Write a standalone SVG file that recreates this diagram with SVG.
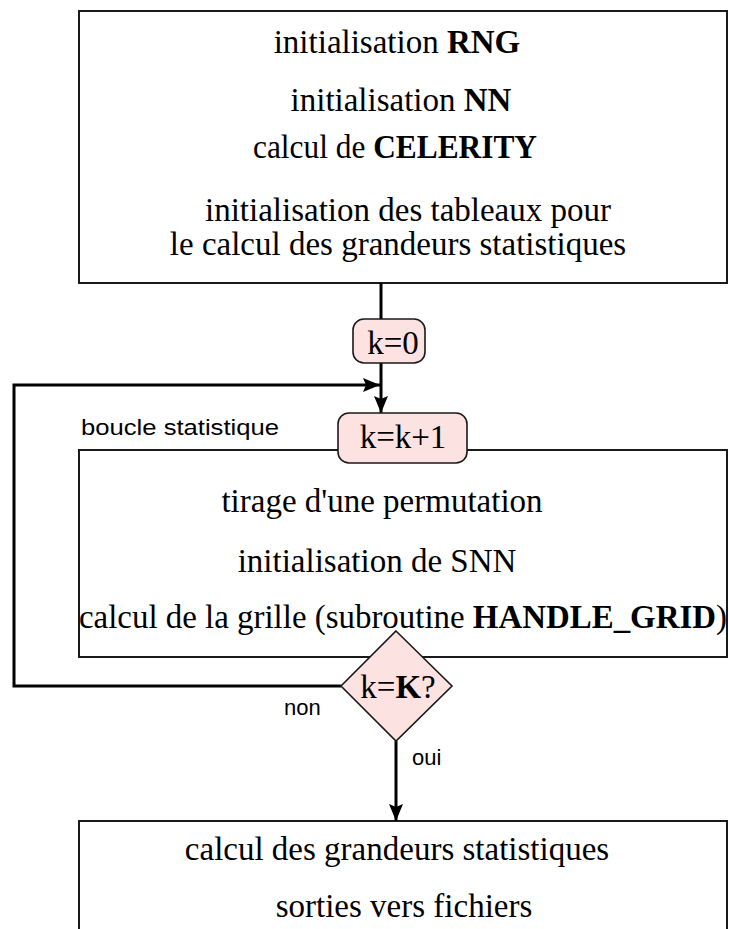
<svg xmlns="http://www.w3.org/2000/svg" width="729" height="929" viewBox="0 0 729 929">
<style>
.box{fill:#fff;stroke:#1a1a1a;stroke-width:2}
.pink{fill:#fde2e2;stroke:#1a1a1a;stroke-width:1.6}
.t{font-family:"Liberation Serif","Times New Roman",serif;font-size:33px;fill:#000;text-anchor:middle}
.b{font-weight:bold}
.s{font-family:"Liberation Sans",Arial,sans-serif;font-size:22px;fill:#000}
.c{fill:none;stroke:#000;stroke-width:3}
</style>
<defs>
<marker id="ah" markerUnits="userSpaceOnUse" markerWidth="18" markerHeight="14" refX="17" refY="7" orient="auto">
<path d="M0,0 L17,7 L0,14 L3,7 z" fill="#000"/>
</marker>
</defs>
<rect width="729" height="929" fill="#fff"/>
<g id="box-init">
<rect class="box" x="79" y="11" width="648" height="272"/>
<text class="t" x="397" y="53">initialisation <tspan class="b">RNG</tspan></text>
<text class="t" x="401" y="111">initialisation <tspan class="b">NN</tspan></text>
<text class="t" x="395" y="158" textLength="284" lengthAdjust="spacingAndGlyphs">calcul de <tspan class="b">CELERITY</tspan></text>
<text class="t" x="408" y="221">initialisation des tableaux pour</text>
<text class="t" x="398" y="255">le calcul des grandeurs statistiques</text>
</g>
<g id="box-loop">
<rect class="box" x="79" y="450" width="648" height="207"/>
<text class="t" x="382" y="512">tirage d'une permutation</text>
<text class="t" x="377" y="572">initialisation de SNN</text>
<text class="t" x="403" y="628" textLength="648" lengthAdjust="spacingAndGlyphs">calcul de la grille (subroutine <tspan class="b">HANDLE_GRID</tspan>)</text>
</g>
<g id="box-stats">
<rect class="box" x="79" y="821" width="648" height="130"/>
<text class="t" x="397" y="860">calcul des grandeurs statistiques</text>
<text class="t" x="404" y="917">sorties vers fichiers</text>
</g>
<g id="connectors">
<path class="c" d="M381,283 V319"/>
<path class="c" d="M381,363 V413" marker-end="url(#ah)"/>
<path class="c" d="M341,686 H14 V385 H380" marker-end="url(#ah)"/>
<path class="c" d="M396,741 V821" marker-end="url(#ah)"/>
<text class="s" x="81" y="435" textLength="198" lengthAdjust="spacingAndGlyphs">boucle statistique</text>
<text class="s" x="284" y="715">non</text>
<text class="s" x="412" y="765">oui</text>
</g>
<g id="node-k0">
<rect class="pink" x="353" y="319" width="72" height="44" rx="11"/>
<text class="t" x="393" y="354">k=0</text>
</g>
<g id="node-kinc">
<rect class="pink" x="338" y="413" width="129" height="50" rx="11"/>
<text class="t" x="403" y="448">k=k+1</text>
</g>
<g id="node-test">
<path class="pink" d="M396,631 L452,686 L396,741 L341,686 z"/>
<text class="t" x="398" y="698">k=<tspan class="b">K</tspan>?</text>
</g>
</svg>
